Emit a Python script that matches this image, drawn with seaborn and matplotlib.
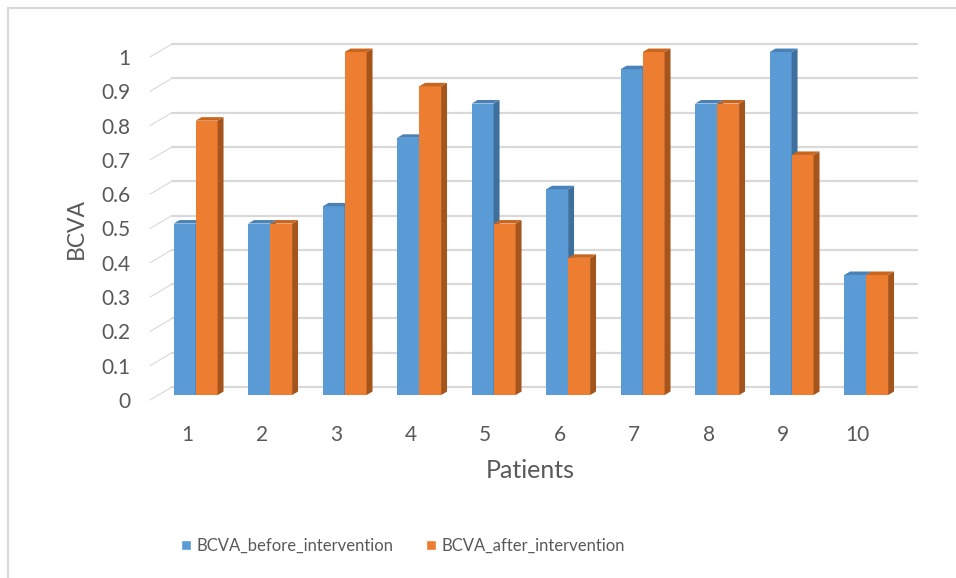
import numpy as np
import pandas as pd
import matplotlib
matplotlib.use("Agg")
import matplotlib.pyplot as plt
from matplotlib.patches import Polygon, Patch, Rectangle
import seaborn as sns

# data
patients = ["1", "2", "3", "4", "5", "6", "7", "8", "9", "10"]
bcva_before = [0.5, 0.5, 0.55, 0.75, 0.85, 0.6, 0.95, 0.85, 1.0, 0.35]
bcva_after = [0.8, 0.5, 1.0, 0.9, 0.5, 0.4, 1.0, 0.85, 0.7, 0.35]
series_names = ["BCVA_before_intervention", "BCVA_after_intervention"]
y_ticks = [0, 0.1, 0.2, 0.3, 0.4, 0.5, 0.6, 0.7, 0.8, 0.9, 1.0]
y_tick_labels = ["0", "0.1", "0.2", "0.3", "0.4", "0.5", "0.6", "0.7", "0.8", "0.9", "1"]

# face colours: front, side, top
blue = ("#5B9BD5", "#3E6F9D", "#4A82B8")
orange = ("#ED7D31", "#A5541C", "#C8661F")
text_color = "#595959"
grid_color = "#D9D9D9"

df = pd.DataFrame({
    "Patients": patients * 2,
    "BCVA": bcva_before + bcva_after,
    "Group": [series_names[0]] * len(patients) + [series_names[1]] * len(patients),
})

sns.set_style("white")
plt.rcParams["font.family"] = ["Lato", "DejaVu Sans"]

W, H = 956, 578
fig = plt.figure(figsize=(W / 100, H / 100), dpi=100)
# front plane of the 3d box, in pixels
left_px, right_px, top_px, bottom_px = 150, 895, 57, 400
ax = fig.add_axes([left_px / W, (H - bottom_px) / H,
                   (right_px - left_px) / W, (bottom_px - top_px) / H])

sns.barplot(data=df, x="Patients", y="BCVA", hue="Group",
            palette=[blue[0], orange[0]], width=0.59, saturation=1,
            dodge=True, legend=False, ax=ax)
ax.set_xlim(-0.5, len(patients) - 0.5)
ax.set_ylim(0, 1)

# pixel -> data conversion for the depth offsets
px_x = (right_px - left_px) / len(patients)
px_y = (bottom_px - top_px) / 1.0
ddx, ddy = 22 / px_x, 13 / px_y   # full floor depth
t0, t1 = 0.38, 0.65               # bar front / back depth

# back wall gridlines with the slanted floor edge
for v in y_ticks:
    ax.plot([-0.5, -0.5 + ddx], [v, v + ddy], color=grid_color, lw=0.8,
            clip_on=False, zorder=0)
    ax.plot([-0.5 + ddx, len(patients) - 0.5 + ddx], [v + ddy, v + ddy],
            color=grid_color, lw=1.6, clip_on=False, zorder=0)

# turn flat bars into 3d columns
bars = list(ax.patches)
n = len(patients)
for i, bar in enumerate(bars):
    cols = blue if i < n else orange
    z = 2 if i < n else 3
    x0 = bar.get_x() + t0 * ddx
    y0 = t0 * ddy
    w = bar.get_width()
    h = bar.get_height()
    bar.set_x(x0)
    bar.set_y(y0)
    bar.set_linewidth(0)
    bar.set_zorder(z)
    bar.set_clip_on(False)
    x1 = x0 + w
    sx, sy = (t1 - t0) * ddx, (t1 - t0) * ddy
    top = y0 + h
    side = Polygon([(x1, y0), (x1 + sx, y0 + sy), (x1 + sx, top + sy), (x1, top)],
                   closed=True, facecolor=cols[1], edgecolor="none",
                   zorder=z + 0.1, clip_on=False)
    cap = Polygon([(x0, top), (x1, top), (x1 + sx, top + sy), (x0 + sx, top + sy)],
                  closed=True, facecolor=cols[2], edgecolor="none",
                  zorder=z + 0.1, clip_on=False)
    ax.add_patch(side)
    ax.add_patch(cap)

for s in ax.spines.values():
    s.set_visible(False)
ax.set_yticks(y_ticks)
ax.set_yticklabels(y_tick_labels)
ax.tick_params(axis="both", length=0, labelsize=15, labelcolor=text_color)
ax.tick_params(axis="y", pad=14)
ax.tick_params(axis="x", pad=18)
ax.set_xlabel("Patients", fontsize=18, color=text_color)
ax.set_ylabel("BCVA", fontsize=16.5, color=text_color)
ax.xaxis.set_label_coords(0.51, -(471 - bottom_px) / (bottom_px - top_px))
ax.xaxis.label.set_va("center")
ax.yaxis.set_label_coords((76 - left_px) / (right_px - left_px), 0.5)
ax.yaxis.label.set_va("center")

handles = [Patch(facecolor=blue[0]), Patch(facecolor=orange[0])]
fig.legend(handles, series_names, loc="center", bbox_to_anchor=(403 / W, 1 - 546 / H),
           ncol=2, frameon=False, fontsize=12, labelcolor=text_color,
           handlelength=0.6, handleheight=0.6, handletextpad=0.3, columnspacing=2.0)

# chart area border
fig.patches.append(Rectangle((8 / W, -0.05), 1.1, 1 - 8 / H + 0.05,
                             transform=fig.transFigure, fill=False,
                             edgecolor=grid_color, lw=1.5))

fig.savefig("out.png", dpi=100)
